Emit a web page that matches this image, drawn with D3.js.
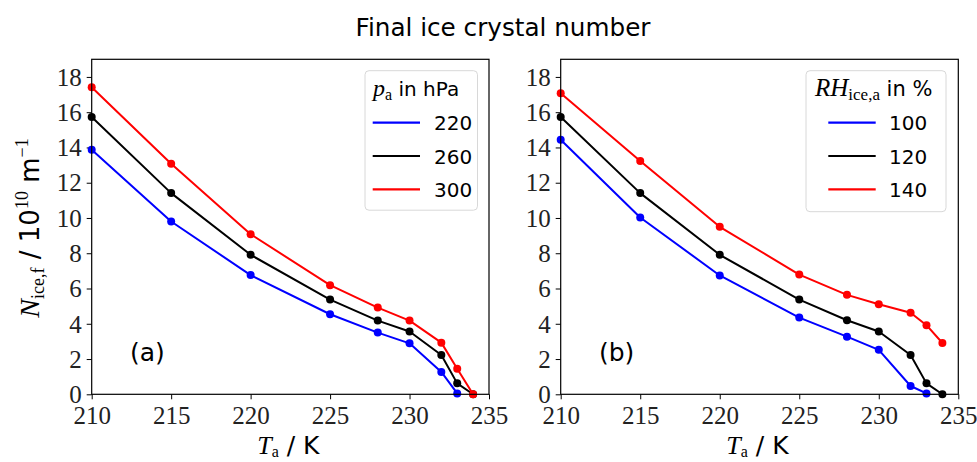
<!DOCTYPE html>
<html>
<head>
<meta charset="utf-8">
<script src="https://cdn.jsdelivr.net/npm/d3@7"></script>
<style>
  html, body { margin: 0; padding: 0; background: #fff; }
  svg { display: block; }
</style>
</head>
<body>
<svg id="chart" width="977" height="462"></svg>
<script>
// Temperatures (K) and final ice crystal number (10^10 m^-1)
const tempsFull = [210, 215, 220, 225, 228, 230, 232, 233, 234];
const tempsShort = [210, 215, 220, 225, 228, 230, 232, 233];

// Panel (a): pressure variation, hPa
const pressureLabels = ["220", "260", "300"];
const nP220 = [13.87, 9.80, 6.76, 4.54, 3.50, 2.89, 1.27, 0.05];
const nP260 = [15.73, 11.41, 7.91, 5.37, 4.18, 3.56, 2.23, 0.62, 0.0];
const nP300 = [17.41, 13.08, 9.08, 6.19, 4.92, 4.18, 2.93, 1.45, 0.0];

// Panel (b): relative humidity over ice variation, %
const humidityLabels = ["100", "120", "140"];
const nRH100 = [14.44, 10.03, 6.74, 4.35, 3.27, 2.52, 0.47, 0.05];
const nRH120 = [15.73, 11.41, 7.91, 5.37, 4.20, 3.56, 2.23, 0.62, 0.0];
const nRH140 = [17.07, 13.23, 9.50, 6.79, 5.64, 5.11, 4.63, 3.92, 2.91];

const xTicks = [210, 215, 220, 225, 230, 235];
const yTicks = [0, 2, 4, 6, 8, 10, 12, 14, 16, 18];
const colors = ["#0000ff", "#000000", "#ff0000"];

const svg = d3.select("#chart");
const serif = "'Liberation Serif', 'DejaVu Serif', serif";
const sans = "'DejaVu Sans', 'Liberation Sans', sans-serif";

// Title
svg.append("text")
  .attr("x", 503).attr("y", 36)
  .attr("text-anchor", "middle")
  .attr("font-family", sans).attr("font-size", 24)
  .attr("textLength", 295).attr("lengthAdjust", "spacingAndGlyphs")
  .text("Final ice crystal number");

const plotTop = 59.3, plotBottom = 394.3;

function panel(left, right, series, labels, legendBox, panelTag, legendTitleFn) {
  const x = d3.scaleLinear().domain([210, 235]).range([left, right]);
  const y = d3.scaleLinear().domain([0, 19]).range([plotBottom, plotTop]);
  const g = svg.append("g");

  const xAxis = g.append("g")
    .attr("transform", `translate(0,${plotBottom})`)
    .call(d3.axisBottom(x).tickValues(xTicks).tickSize(5).tickPadding(5));
  const yAxis = g.append("g")
    .attr("transform", `translate(${left},0)`)
    .call(d3.axisLeft(y).tickValues(yTicks).tickSize(5).tickPadding(5));
  [xAxis, yAxis].forEach(a => {
    a.select(".domain").remove();
    a.selectAll(".tick line").attr("stroke", "#000").attr("stroke-width", 1);
    a.selectAll(".tick text")
      .attr("font-family", serif).attr("font-size", 25).attr("fill", "#222");
  });
  xAxis.selectAll(".tick text").attr("dy", "0.8em");
  yAxis.selectAll(".tick text").attr("dy", "0.33em");

  const line = d3.line().x(d => x(d[0])).y(d => y(d[1]));
  series.forEach((s, i) => {
    const pts = s.vals.map((v, j) => [s.temps[j], v]);
    g.append("path").datum(pts)
      .attr("d", line).attr("fill", "none")
      .attr("stroke", colors[i]).attr("stroke-width", 2)
      .attr("stroke-linejoin", "round");
    g.selectAll(null).data(pts).enter().append("circle")
      .attr("cx", d => x(d[0])).attr("cy", d => y(d[1]))
      .attr("r", 4).attr("fill", colors[i]);
  });

  // frame
  g.append("rect")
    .attr("x", left).attr("y", plotTop)
    .attr("width", right - left).attr("height", plotBottom - plotTop)
    .attr("fill", "none").attr("stroke", "#000").attr("stroke-width", 1.2);

  // legend
  const lg = g.append("g");
  lg.append("rect")
    .attr("x", legendBox.x).attr("y", legendBox.y)
    .attr("width", legendBox.w).attr("height", legendBox.h)
    .attr("rx", 4).attr("fill", "#fff").attr("fill-opacity", 0.85)
    .attr("stroke", "#d8d8d8").attr("stroke-width", 1);
  legendTitleFn(lg, legendBox);
  labels.forEach((lab, i) => {
    const yy = legendBox.y + 52 + i * 33.3;
    lg.append("line")
      .attr("x1", legendBox.lx1).attr("x2", legendBox.lx2)
      .attr("y1", yy).attr("y2", yy)
      .attr("stroke", colors[i]).attr("stroke-width", 2.2);
    lg.append("text")
      .attr("x", legendBox.tx).attr("y", yy + 7.5)
      .attr("font-family", sans).attr("font-size", 20)
      .text(lab);
  });

  // panel tag
  g.append("text")
    .attr("x", panelTag.x).attr("y", 361)
    .attr("font-family", sans).attr("font-size", 25)
    .text(panelTag.t);

  // x label: T_a / K
  const xl = g.append("text")
    .attr("x", (left + right) / 2 - 2).attr("y", 454)
    .attr("text-anchor", "middle");
  xl.append("tspan").attr("font-family", serif).attr("font-style", "italic")
    .attr("font-size", 26).text("T");
  xl.append("tspan").attr("font-family", serif).attr("font-size", 16)
    .attr("dy", 3).text("a");
  xl.append("tspan").attr("font-family", sans).attr("font-size", 25)
    .attr("dy", -3).text(" / K");
  return { x, y };
}

function legendTitleP(lg, b) {
  const t = lg.append("text").attr("x", b.x + 8).attr("y", b.y + 25);
  t.append("tspan").attr("font-family", serif).attr("font-style", "italic")
    .attr("font-size", 24).text("p");
  t.append("tspan").attr("font-family", serif).attr("font-size", 16)
    .attr("dy", 4).text("a");
  t.append("tspan").attr("font-family", sans).attr("font-size", 20)
    .attr("dy", -4).text(" in hPa");
}
function legendTitleRH(lg, b) {
  const t = lg.append("text").attr("x", b.x + 9).attr("y", b.y + 25);
  t.append("tspan").attr("font-family", serif).attr("font-style", "italic")
    .attr("font-size", 25).text("RH");
  t.append("tspan").attr("font-family", serif).attr("font-size", 17)
    .attr("dy", 4).text("ice,a");
  t.append("tspan").attr("font-family", sans).attr("font-size", 21)
    .attr("dy", -4).text(" in %");
}

panel(91.7, 489,
  [{ temps: tempsShort, vals: nP220 }, { temps: tempsFull, vals: nP260 }, { temps: tempsFull, vals: nP300 }],
  pressureLabels,
  { x: 365, y: 70.7, w: 112.5, h: 139.5, lx1: 372.7, lx2: 420, tx: 434 },
  { x: 130, t: "(a)" }, legendTitleP);

panel(560.7, 958.3,
  [{ temps: tempsShort, vals: nRH100 }, { temps: tempsFull, vals: nRH120 }, { temps: tempsFull, vals: nRH140 }],
  humidityLabels,
  { x: 806, y: 70.7, w: 140, h: 141, lx1: 828.3, lx2: 875.7, tx: 889 },
  { x: 599, t: "(b)" }, legendTitleRH);

// shared y label: N_ice,f / 10^10 m^-1 (rotated)
const yl = svg.append("text")
  .attr("transform", "translate(39,228) rotate(-90)")
  .attr("text-anchor", "middle");
yl.append("tspan").attr("font-family", serif).attr("font-style", "italic")
  .attr("font-size", 28).text("N");
yl.append("tspan").attr("font-family", serif).attr("font-size", 18)
  .attr("dy", 5).text("ice,f");
yl.append("tspan").attr("font-family", sans).attr("font-size", 26)
  .attr("dy", -5).text("  /  10");
yl.append("tspan").attr("font-family", serif).attr("font-size", 18)
  .attr("dy", -11).text("10");
yl.append("tspan").attr("font-family", sans).attr("font-size", 26)
  .attr("dy", 11).text(" m");
yl.append("tspan").attr("font-family", serif).attr("font-size", 18)
  .attr("dy", -11).text("\u22121");
</script>
</body>
</html>
